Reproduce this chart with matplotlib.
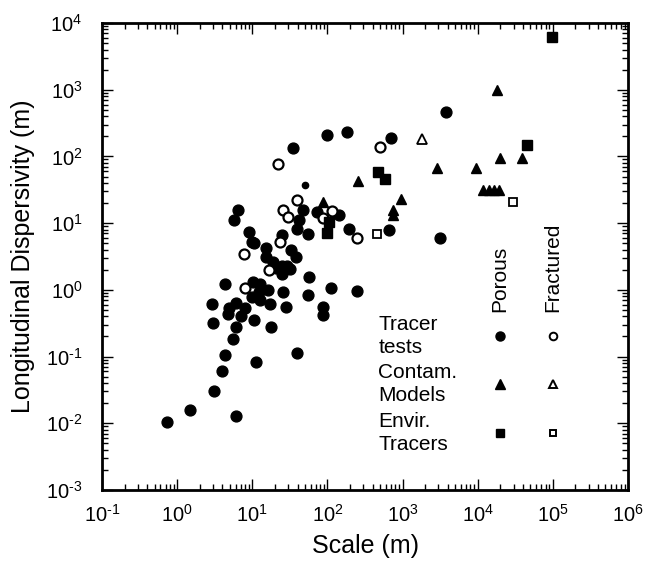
import math
import matplotlib
matplotlib.use("Agg")
import matplotlib.pyplot as plt
from matplotlib.ticker import LogLocator, NullFormatter, FuncFormatter

plt.rcParams['font.family'] = ['Liberation Sans', 'DejaVu Sans']
plt.rcParams['mathtext.fontset'] = 'custom'
plt.rcParams['mathtext.rm'] = 'Liberation Sans'
plt.rcParams['mathtext.it'] = 'Liberation Sans'
plt.rcParams['mathtext.default'] = 'regular'

# porous media, tracer tests (filled circles)
por_tt_x = [98, 181, 34.5, 6.4, 5.7, 47, 73, 144, 41.7, 39.7, 55.6, 195, 9.0, 9.8, 10.6,
            24.6, 15, 33, 15, 38, 18.9, 20.5, 24.6, 28.7, 31.6, 25, 57.5, 25.7, 55.6, 110,
            244, 86.5, 86.5, 28, 17.4, 17.9, 39, 10.3, 12.6, 16.3, 12.4, 9.8, 12.6, 4.37,
            2.88, 6.0, 4.85, 4.75, 8.0, 7.0, 3.03, 10.5, 6.0, 5.5, 4.37, 11.2, 4.0, 3.1,
            1.48, 0.74, 6.0, 695, 3780, 665, 3150]
por_tt_y = [209, 229, 132, 15.5, 11.2, 15.7, 14.7, 13.2, 11.1, 8.1, 6.8, 8.1, 7.4, 5.3, 5.1,
            6.6, 4.2, 3.95, 3.1, 3.14, 2.6, 2.1, 2.3, 2.25, 2.05, 1.71, 1.57, 0.93, 0.84, 1.05,
            0.97, 0.56, 0.42, 0.56, 0.61, 0.275, 0.112, 1.3, 1.22, 1.0, 0.93, 0.78, 0.70, 1.21,
            0.61, 0.64, 0.53, 0.43, 0.53, 0.40, 0.32, 0.35, 0.275, 0.183, 0.105, 0.082, 0.061, 0.031,
            0.016, 0.0105, 0.0129, 186, 464, 7.9, 6.05]
small_x = [51]
small_y = [37]

# fractured media, tracer tests (open circles)
fra_tt_x = [21.8, 500, 39, 26, 115, 86.5, 30, 250, 23.4, 7.8, 16.7, 8.0]
fra_tt_y = [77, 139, 22, 16, 15.4, 12, 12.2, 6.05, 5.2, 3.4, 1.98, 1.05]

# contaminant models
por_cm_x = [257, 86.5, 17900, 19800, 38900, 2900, 9480, 944, 753, 753, 11800, 14000, 16500, 19000]
por_cm_y = [43, 20.7, 990, 95, 94, 66, 66, 22.7, 15.7, 13.2, 31, 31, 31, 31]
fra_cm_x = [1830]
fra_cm_y = [180]

# environmental tracers
por_et_x = [96000, 44600, 470, 578, 106, 98]
por_et_y = [6240, 147, 59, 46, 10.4, 7.0]
fra_et_x = [453, 29900]
fra_et_y = [6.8, 20.9]

fig = plt.figure(figsize=(6.47, 5.65), dpi=100)
ax = fig.add_axes([102/647, 75/565, 526/647, 467/565])

ms = 7.8
ax.plot(por_tt_x, por_tt_y, 'o', color='black', ms=ms, ls='none')
ax.plot(small_x, small_y, 'o', color='black', ms=4.5, ls='none')
ax.plot(fra_tt_x, fra_tt_y, 'o', mfc='white', mec='black', mew=1.6, ms=ms-0.6, ls='none')
ax.plot(por_cm_x, por_cm_y, '^', color='black', ms=ms, ls='none')
ax.plot(fra_cm_x, fra_cm_y, '^', mfc='white', mec='black', mew=1.3, ms=ms-1, ls='none')
ax.plot(por_et_x, por_et_y, 's', color='black', ms=ms-1.2, ls='none')
ax.plot(fra_et_x, fra_et_y, 's', mfc='white', mec='black', mew=1.3, ms=ms-1.5, ls='none')

ax.set_xscale('log')
ax.set_yscale('log')
ax.set_xlim(1e-1, 1e6)
ax.set_ylim(1e-3, 1e4)

def pow_label(v, pos):
    e = int(round(math.log10(v)))
    return r'$10^{%s}$' % ('\u2010' + str(-e) if e < 0 else str(e))

for axis in (ax.xaxis, ax.yaxis):
    axis.set_major_locator(LogLocator(base=10, numticks=10))
    axis.set_minor_locator(LogLocator(base=10, subs=range(2, 10), numticks=10))
    axis.set_minor_formatter(NullFormatter())
    axis.set_major_formatter(FuncFormatter(pow_label))
ax.tick_params(which='both', direction='in', top=True, right=True, labelsize=14.5, width=1)
ax.tick_params(which='major', length=8)
ax.tick_params(axis='x', which='major', pad=10)
ax.tick_params(axis='y', which='major', pad=14)
ax.tick_params(which='minor', length=4)
for s in ax.spines.values():
    s.set_linewidth(2)

ax.set_xlabel('Scale (m)', fontsize=18, labelpad=6)
ax.set_ylabel('Longitudinal Dispersivity (m)', fontsize=18, labelpad=8)

# legend block drawn inside the axes
tf = ax.transAxes
col_p, col_f = 0.757, 0.857
rows = [0.330, 0.227, 0.122]
labels = ['Tracer\ntests', 'Contam.\nModels', 'Envir.\nTracers']
for r, lab in zip(rows, labels):
    ax.text(0.525, r, lab, transform=tf, fontsize=15, ha='left', va='center', linespacing=1.25)
ax.plot(col_p, rows[0], 'o', color='black', ms=6.5, transform=tf)
ax.plot(col_f, rows[0], 'o', mfc='white', mec='black', mew=1.4, ms=5.5, transform=tf)
ax.plot(col_p, rows[1], '^', color='black', ms=6.5, transform=tf)
ax.plot(col_f, rows[1], '^', mfc='white', mec='black', mew=1.4, ms=5.5, transform=tf)
ax.plot(col_p, rows[2], 's', color='black', ms=5.5, transform=tf)
ax.plot(col_f, rows[2], 's', mfc='white', mec='black', mew=1.4, ms=5, transform=tf)
ax.text(col_p, 0.381, 'Porous', transform=tf, rotation=90, fontsize=15, ha='center', va='bottom')
ax.text(col_f, 0.381, 'Fractured', transform=tf, rotation=90, fontsize=15, ha='center', va='bottom')

fig.savefig('out.png', dpi=100)
